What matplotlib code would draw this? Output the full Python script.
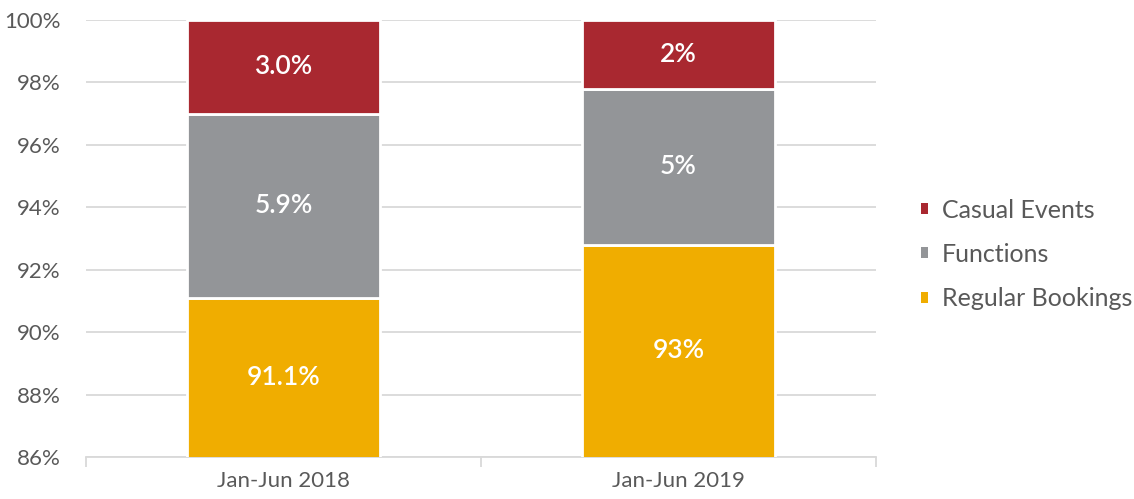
import matplotlib.pyplot as plt
from matplotlib.ticker import FuncFormatter

# Data
periods = ['Jan-Jun 2018', 'Jan-Jun 2019']
regular = [91.1, 92.8]
functions = [5.9, 5.0]
casual = [3.0, 2.2]
regular_labels = ['91.1%', '93%']
function_labels = ['5.9%', '5%']
casual_labels = ['3.0%', '2%']

colors = {'Regular Bookings': '#F0AD00', 'Functions': '#939598', 'Casual Events': '#A92830'}

fig = plt.figure(figsize=(11.34, 4.99), dpi=100)
ax = fig.add_axes([0.0758, 0.084, 0.6967, 0.876])

x = list(range(len(periods)))
w = 0.49
b1 = ax.bar(x, regular, w, color=colors['Regular Bookings'], edgecolor='white', linewidth=2,
            label='Regular Bookings', zorder=3)
b2 = ax.bar(x, functions, w, bottom=regular, color=colors['Functions'], edgecolor='white',
            linewidth=2, label='Functions', zorder=3)
bottom3 = [r + f for r, f in zip(regular, functions)]
b3 = ax.bar(x, casual, w, bottom=bottom3, color=colors['Casual Events'], edgecolor='white',
            linewidth=2, label='Casual Events', zorder=3)

# Segment labels
lab_font = dict(color='white', fontsize=19, ha='center', va='center', family='Lato',
                weight='semibold', zorder=4)
for i in x:
    ax.text(i, (86 + regular[i]) / 2, regular_labels[i], **lab_font)
    ax.text(i, regular[i] + functions[i] / 2, function_labels[i], **lab_font)
    ax.text(i, bottom3[i] + casual[i] / 2, casual_labels[i], **lab_font)

ax.set_ylim(86, 100)
ax.set_xlim(-0.5, 1.5)
ax.set_yticks(range(86, 101, 2))
ax.yaxis.set_major_formatter(FuncFormatter(lambda v, p: f'{v:.0f}%'))
ax.grid(axis='y', color='#D9D9D9', linewidth=1.3, zorder=0)
ax.tick_params(axis='y', length=0, labelsize=16, labelcolor='#595959', pad=18)
for t in ax.get_yticklabels():
    t.set_family('Lato')

ax.set_xticks(x)
ax.set_xticklabels(periods, fontsize=16, color='#595959', family='Lato')
ax.tick_params(axis='x', which='major', length=0, pad=10)
ax.set_xticks([-0.5, 0.5, 1.5], minor=True)
ax.tick_params(axis='x', which='minor', length=7, color='#D9D9D9', width=1.3)

for s in ['top', 'right', 'left']:
    ax.spines[s].set_visible(False)
ax.spines['bottom'].set_color('#D9D9D9')
ax.spines['bottom'].set_linewidth(1.3)

handles = [b3, b2, b1]
leg = fig.legend(handles, ['Casual Events', 'Functions', 'Regular Bookings'],
                 loc='center left', bbox_to_anchor=(0.812, 0.49), frameon=False,
                 borderaxespad=0, borderpad=0,
                 handlelength=0.3, handleheight=0.3, handletextpad=0.55, labelspacing=0.85,
                 prop={'family': 'Lato', 'size': 18})
for h in leg.legend_handles:
    h.set_linewidth(0)
for t in leg.get_texts():
    t.set_color('#595959')

fig.savefig('out.png', dpi=100)
